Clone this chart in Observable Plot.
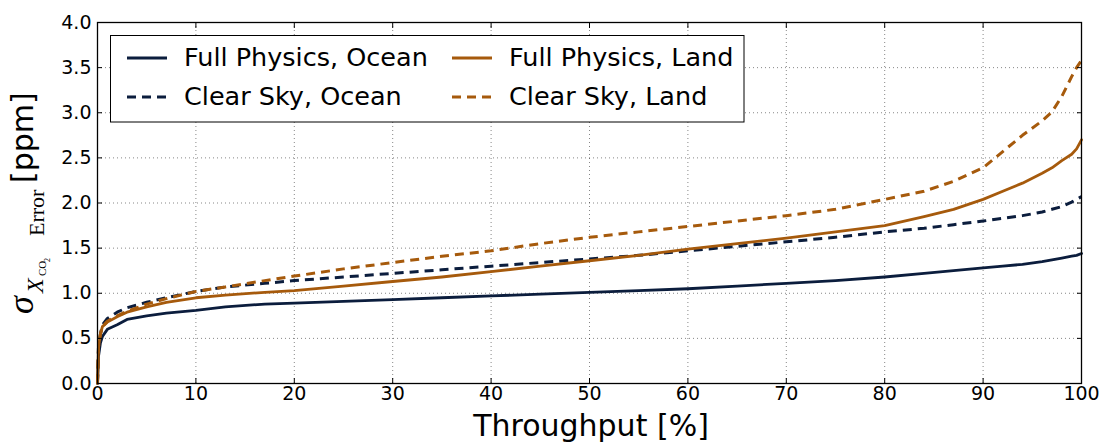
<!DOCTYPE html>
<html>
<head>
<meta charset="utf-8">
<script src="https://cdn.jsdelivr.net/npm/d3@7"></script>
<script src="https://cdn.jsdelivr.net/npm/@observablehq/plot@0.6"></script>
<style>
  body { margin: 0; background: #fff; }
  #chart svg { display: block; }
</style>
</head>
<body>
<div id="chart"></div>
<script>
// Sorted-error curves: XCO2 error versus the fraction of soundings kept.
const throughput = [0, 0.1, 0.3, 0.5, 1, 2, 3, 5, 7, 10, 13, 17, 20, 25, 30, 35, 40, 45, 50, 55,
  60, 65, 70, 75, 80, 84, 87, 90, 92, 94, 96, 97, 98, 99, 99.5, 100];

const fullPhysicsOcean = [0, 0.30, 0.45, 0.52, 0.60, 0.65, 0.71, 0.75, 0.78, 0.81, 0.85, 0.88, 0.89, 0.91, 0.93, 0.95, 0.97, 0.99, 1.01, 1.03,
  1.05, 1.08, 1.11, 1.14, 1.18, 1.22, 1.25, 1.28, 1.30, 1.32, 1.35, 1.37, 1.39, 1.41, 1.42, 1.44];

const clearSkyOcean = [0, 0.40, 0.55, 0.65, 0.72, 0.79, 0.84, 0.90, 0.95, 1.02, 1.07, 1.11, 1.14, 1.18, 1.22, 1.26, 1.30, 1.34, 1.38, 1.42,
  1.47, 1.52, 1.57, 1.62, 1.68, 1.72, 1.76, 1.80, 1.83, 1.86, 1.90, 1.93, 1.96, 2.01, 2.04, 2.07];

const fullPhysicsLand = [0, 0.40, 0.55, 0.63, 0.68, 0.74, 0.79, 0.85, 0.90, 0.95, 0.98, 1.01, 1.03, 1.08, 1.13, 1.18, 1.24, 1.30, 1.36, 1.42,
  1.49, 1.55, 1.61, 1.68, 1.75, 1.85, 1.93, 2.04, 2.13, 2.22, 2.33, 2.39, 2.47, 2.54, 2.60, 2.70];

const clearSkyLand = [0, 0.40, 0.55, 0.63, 0.69, 0.75, 0.80, 0.88, 0.94, 1.02, 1.07, 1.14, 1.19, 1.27, 1.34, 1.41, 1.47, 1.55, 1.62, 1.68,
  1.74, 1.80, 1.86, 1.93, 2.04, 2.13, 2.24, 2.39, 2.57, 2.75, 2.91, 3.01, 3.18, 3.40, 3.50, 3.58];

const seriesNames = ["Full Physics, Ocean", "Clear Sky, Ocean", "Full Physics, Land", "Clear Sky, Land"];
const seriesValues = [fullPhysicsOcean, clearSkyOcean, fullPhysicsLand, clearSkyLand];

const xTicks = [0, 10, 20, 30, 40, 50, 60, 70, 80, 90, 100];
const yTicks = [0, 0.5, 1.0, 1.5, 2.0, 2.5, 3.0, 3.5, 4.0];

const navy = "#0b1d3d";
const brown = "#a65a0c";
const seriesStyle = [
  {stroke: navy, strokeWidth: 2.8},
  {stroke: navy, strokeWidth: 3, strokeDasharray: "9,6", strokeLinecap: "butt"},
  {stroke: brown, strokeWidth: 2.8},
  {stroke: brown, strokeWidth: 3, strokeDasharray: "9,6", strokeLinecap: "butt"}
];

const rows = seriesNames.flatMap((name, i) =>
  throughput.map((t, j) => ({series: name, throughput: t, error: seriesValues[i][j]})));

const gridStyle = {stroke: "#000", strokeOpacity: 0.6, strokeWidth: 0.8, strokeDasharray: "1,3"};
const blank = () => "";

const chart = Plot.plot({
  width: 1102,
  height: 443,
  marginLeft: 97,
  marginRight: 21,
  marginTop: 22,
  marginBottom: 60,
  style: {fontFamily: "'DejaVu Sans', sans-serif", fontSize: "19px", color: "#000", background: "#fff", overflow: "visible"},
  x: {domain: [0, 100], label: null},
  y: {domain: [0, 4], label: null},
  marks: [
    Plot.gridX(xTicks, gridStyle),
    Plot.gridY(yTicks, gridStyle),
    ...seriesNames.map((name, i) =>
      Plot.line(rows.filter(d => d.series === name), {
        x: "throughput", y: "error", ...seriesStyle[i]
      })),
    // inward tick marks on all four sides
    Plot.axisX(xTicks, {anchor: "bottom", tickSize: 5, dy: -5, tickFormat: blank, label: null}),
    Plot.axisX(xTicks, {anchor: "top", tickSize: 5, dy: 5, tickFormat: blank, label: null}),
    Plot.axisY(yTicks, {anchor: "left", tickSize: 5, dx: 5, tickFormat: blank, label: null}),
    Plot.axisY(yTicks, {anchor: "right", tickSize: 5, dx: -5, tickFormat: blank, label: null}),
    // tick labels
    Plot.axisX(xTicks, {anchor: "bottom", tickSize: 0, tickPadding: 3, label: null}),
    Plot.axisY(yTicks, {anchor: "left", tickSize: 0, tickPadding: 6, tickFormat: d3.format(".1f"), label: null}),
    Plot.frame({stroke: "#000", strokeWidth: 1.3})
  ]
});

const svg = d3.select(chart);

// x-axis title
svg.append("text")
  .attr("x", 591).attr("y", 436)
  .attr("text-anchor", "middle")
  .attr("font-family", "'DejaVu Sans', sans-serif")
  .attr("font-size", 30)
  .attr("fill", "#000")
  .text("Throughput [%]");

// y-axis title: σ with subscript X_CO2 Error, then [ppm]
const yTitle = svg.append("g")
  .attr("transform", "rotate(-90)")
  .attr("text-anchor", "start")
  .attr("fill", "#000");
const serif = "'Liberation Serif', 'DejaVu Serif', serif";
yTitle.append("text").attr("x", -314).attr("y", 33)
  .attr("font-family", serif).attr("font-style", "italic").attr("font-size", 36).text("σ");
yTitle.append("text").attr("x", -293).attr("y", 43)
  .attr("font-family", serif).attr("font-style", "italic").attr("font-size", 24).text("X");
yTitle.append("text").attr("x", -276).attr("y", 46)
  .attr("font-family", serif).attr("font-size", 11).text("CO");
yTitle.append("text").attr("x", -262).attr("y", 50)
  .attr("font-family", serif).attr("font-size", 8).text("2");
yTitle.append("text").attr("x", -236).attr("y", 44)
  .attr("font-family", serif).attr("font-size", 22).text("Error");
yTitle.append("text").attr("x", -183).attr("y", 33)
  .attr("font-family", "'DejaVu Sans', sans-serif").attr("font-size", 30).text("[ppm]");

// legend box (two columns, drawn in column order)
const legend = svg.append("g")
  .attr("font-family", "'DejaVu Sans', sans-serif")
  .attr("font-size", 25.5)
  .attr("text-anchor", "start");
legend.append("rect")
  .attr("x", 110.5).attr("y", 35.5).attr("width", 633.5).attr("height", 86.5)
  .attr("fill", "#fff").attr("stroke", "#000").attr("stroke-width", 1);
const colX = [127, 452];
const rowY = [58, 97];
seriesNames.forEach((name, i) => {
  const cx = colX[Math.floor(i / 2)];
  const cy = rowY[i % 2];
  const st = seriesStyle[i];
  legend.append("line")
    .attr("x1", cx).attr("x2", cx + 40).attr("y1", cy).attr("y2", cy)
    .attr("stroke", st.stroke).attr("stroke-width", st.strokeWidth)
    .attr("stroke-dasharray", st.strokeDasharray || null);
  legend.append("text")
    .attr("x", cx + 57).attr("y", cy + 7.5)
    .attr("fill", "#000")
    .text(name);
});

document.getElementById("chart").appendChild(chart);
</script>
</body>
</html>
